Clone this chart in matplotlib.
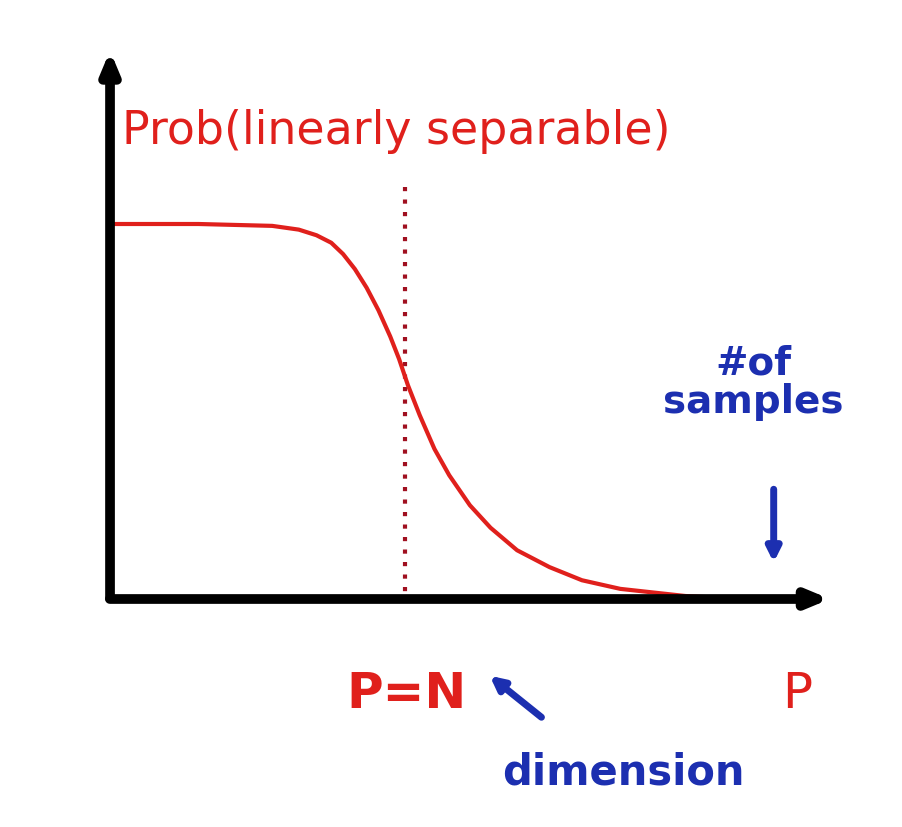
import matplotlib
matplotlib.use("Agg")
import matplotlib.pyplot as plt

# curve: P in units of N, probability of linear separability
p_vals = [0.0, 0.3, 0.55, 0.64, 0.70, 0.75, 0.79, 0.83, 0.87, 0.91, 0.95, 0.98, 1.01, 1.05,
          1.10, 1.15, 1.22, 1.29, 1.38, 1.49, 1.60, 1.73, 1.95, 2.14]
prob_vals = [1.0, 1.0, 0.995, 0.985, 0.97, 0.95, 0.92, 0.88, 0.83, 0.77, 0.70, 0.64, 0.57, 0.49,
             0.40, 0.33, 0.25, 0.19, 0.13, 0.085, 0.05, 0.027, 0.008, 0.0]

red = "#e0201c"
dark_red = "#a01020"
blue = "#1c2fb0"

fig = plt.figure(figsize=(9.02, 8.28), dpi=100)
ax = fig.add_axes([0, 0, 1, 1])
ax.set_xlim(-0.373, 2.685)
ax.set_ylim(-0.608, 1.6)
ax.axis("off")

# axes drawn as thick arrows
ax.annotate("", xy=(0, 1.47), xytext=(0, -0.005),
            arrowprops=dict(arrowstyle="-|>,head_length=1.2,head_width=0.5", lw=7, color="black"))
ax.annotate("", xy=(2.45, 0.0), xytext=(-0.01, 0.0),
            arrowprops=dict(arrowstyle="-|>,head_length=1.2,head_width=0.5", lw=7, color="black"))

# dotted line at P = N
ax.plot([1.0, 1.0], [1.1, 0.0], color=dark_red, lw=3, ls=(0, (1, 2)))

# the curve
ax.plot(p_vals, prob_vals, color=red, lw=3, solid_joinstyle="round")

ax.text(0.04, 1.25, "Prob(linearly separable)", color=red, fontsize=33, va="center", ha="left")
ax.text(0.80, -0.25, "P=N", color=red, fontsize=36, va="center", ha="left", fontweight="bold")
ax.text(2.28, -0.25, "P", color=red, fontsize=36, va="center", ha="left")
ax.text(2.18, 0.58, "#of\nsamples", color=blue, fontsize=28, va="center", ha="center",
        fontweight="bold", linespacing=1.0)
ax.text(1.33, -0.46, "dimension", color=blue, fontsize=30, va="center", ha="left", fontweight="bold")

ax.annotate("", xy=(2.25, 0.09), xytext=(2.25, 0.3),
            arrowprops=dict(arrowstyle="-|>,head_length=0.8,head_width=0.4", lw=5, color=blue))
ax.annotate("", xy=(1.28, -0.2), xytext=(1.47, -0.32),
            arrowprops=dict(arrowstyle="-|>,head_length=0.8,head_width=0.4", lw=5, color=blue))

fig.savefig("out.png", dpi=100, facecolor="white")
